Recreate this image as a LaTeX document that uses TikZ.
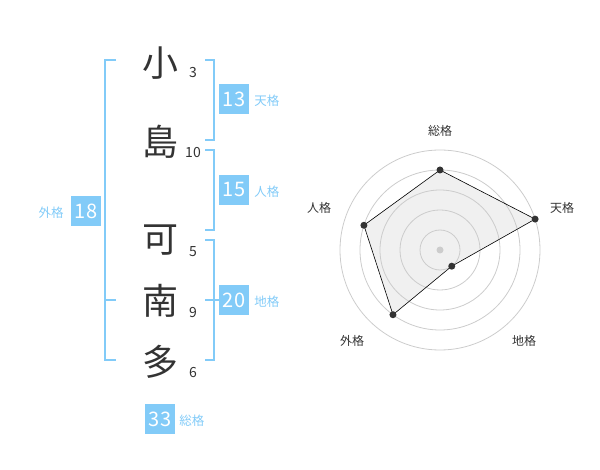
\documentclass[tikz,border=0pt]{standalone}
\usepackage{fontspec}
\setmainfont{Noto Sans CJK JP}
\usetikzlibrary{positioning}
\definecolor{kaku}{HTML}{82CBF8}
\definecolor{ink}{HTML}{333333}
\definecolor{ring}{HTML}{CCCCCC}
\definecolor{area}{HTML}{F0F0F0}

\tikzset{
  moji/.style={text=ink, inner sep=0pt, font=\fontsize{36}{36}\selectfont},
  kakusu/.style={text=ink, inner sep=0pt, font=\fontsize{14}{14}\selectfont},
  valbox/.style={fill=kaku, text=white, minimum size=30pt, inner sep=0pt, font=\fontsize{20}{20}\selectfont},
  vallabel/.style={text=kaku, inner sep=0pt, yshift=-2pt, font=\fontsize{12.5}{12.5}\selectfont},
  brace/.style={draw=kaku, line width=2pt},
  axislabel/.style={text=ink, inner sep=0pt, font=\fontsize{12}{12}\selectfont},
}

\begin{document}
\begin{tikzpicture}[x=1pt,y=-1pt]
  \useasboundingbox (0,0) rectangle (600,470);

  % name and strokes
  \node[moji] (m1) at (160,63) {小};
  \node[moji] (m2) at (160,142) {島};
  \node[moji] (m3) at (160,240) {可};
  \node[moji] (m4) at (160,301) {南};
  \node[moji] (m5) at (160,362) {多};
  \node[kakusu] (k1) at (193,73) {3};
  \node[kakusu] (k2) at (193,153) {10};
  \node[kakusu] (k3) at (193,252) {5};
  \node[kakusu] (k4) at (193,313) {9};
  \node[kakusu] (k5) at (193,373) {6};

  % brackets
  \draw[brace] (116,60) -- (105,60) -- (105,360) -- (116,360);
  \draw[brace] (105,300) -- (116,300);
  \draw[brace] (205,60) -- (214,60) -- (214,140) -- (205,140);
  \draw[brace] (205,150) -- (214,150) -- (214,230) -- (205,230);
  \draw[brace] (205,240) -- (214,240) -- (214,360) -- (205,360);
  \draw[brace] (205,300) -- (219,300);

  \node[valbox] (ten) at (234,99) {13};
  \node[vallabel, right=5pt of ten] (tenl) {天格};
  \node[valbox] (jin) at (234,190) {15};
  \node[vallabel, right=5pt of jin] (jinl) {人格};
  \node[valbox] (chi) at (234,300) {20};
  \node[vallabel, right=5pt of chi] (chil) {地格};
  \node[valbox] (gai) at (86,211) {18};
  \node[vallabel, left=7pt of gai] (gail) {外格};
  \node[valbox] (so) at (160,419) {33};
  \node[vallabel, right=4pt of so] (sol) {総格};

  % radar
  \coordinate (ctr) at (440,250);
  \foreach \a/\v/\n in {-90/4/so, -18/5/ten, 54/1/chi, 126/4/gai, -162/4/jin}
    \path (ctr) ++(\a:\v*20) coordinate (p-\n);
  \fill[area] (p-so) -- (p-ten) -- (p-chi) -- (p-gai) -- (p-jin) -- cycle;
  \foreach \r in {20,40,...,100}
    \draw[ring, line width=0.8pt] (ctr) circle[radius=\r];
  \draw[black, line width=0.6pt]
    (p-so) -- (p-ten) -- (p-chi) -- (p-gai) -- (p-jin) -- cycle;
  \foreach \n in {so,ten,chi,gai,jin}
    \fill[ink] (p-\n) circle[radius=3.5];
  \fill[ring] (ctr) circle[radius=3.5];

  \node[axislabel] (a-so) at (440,131) {総格};
  \node[axislabel] (a-ten) at (562,208) {天格};
  \node[axislabel] (a-chi) at (524,341) {地格};
  \node[axislabel] (a-gai) at (352,341) {外格};
  \node[axislabel] (a-jin) at (319,208) {人格};
\end{tikzpicture}
\end{document}
